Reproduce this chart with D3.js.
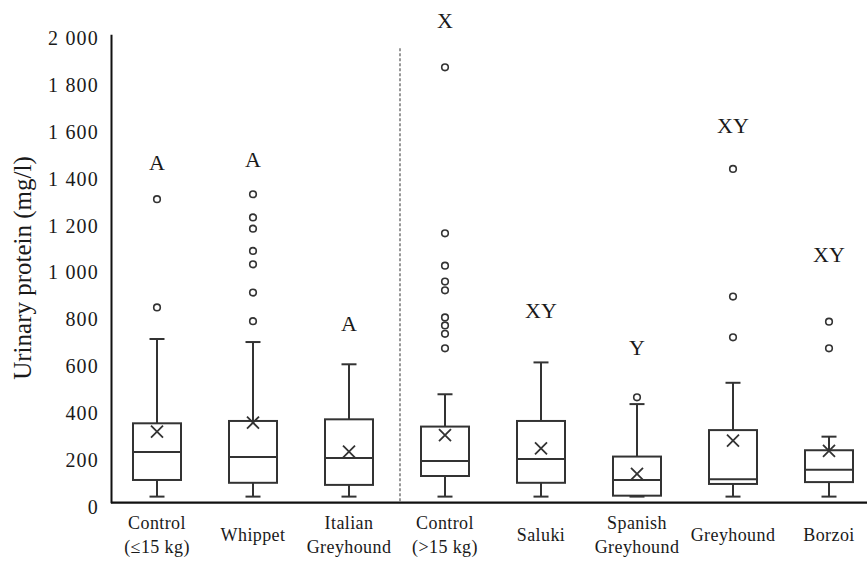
<!DOCTYPE html>
<html>
<head>
<meta charset="utf-8">
<script src="https://cdn.jsdelivr.net/npm/d3@7"></script>
<style>
  html, body { margin: 0; padding: 0; background: #fff; }
  svg { display: block; }
</style>
</head>
<body>
<svg id="chart" width="867" height="568"></svg>
<script>
// ---------- data ----------
const categories = ["Control (≤15 kg)", "Whippet", "Italian Greyhound", "Control (>15 kg)",
                    "Saluki", "Spanish Greyhound", "Greyhound", "Borzoi"];
const categoryLines = [["Control", "(≤15 kg)"], ["Whippet"], ["Italian", "Greyhound"], ["Control", "(>15 kg)"],
                       ["Saluki"], ["Spanish", "Greyhound"], ["Greyhound"], ["Borzoi"]];
const whiskerLow  = [26, 26, 26, 26, 26, 26, 26, 26];
const q1          = [97, 85, 76, 114, 85, 30, 80, 88];
const medians     = [216, 195, 191, 178, 187, 97, 100, 141];
const q3          = [339, 349, 356, 325, 349, 197, 310, 224];
const whiskerHigh = [699, 686, 591, 463, 599, 421, 512, 282];
const means       = [303, 342, 218, 289, 232, 123, 265, 221];
const outliers    = [
  [834, 1296],
  [775, 897, 1018, 1075, 1170, 1218, 1317],
  [],
  [659, 721, 757, 791, 907, 944, 1012, 1150, 1859],
  [],
  [450],
  [706, 880, 1425],
  [659, 773]
];
const letters      = ["A", "A", "A", "X", "XY", "Y", "XY", "XY"];
const letterValues = [1452, 1468, 767, 2058, 820, 662, 1613, 1062];
const yTicks = [0, 200, 400, 600, 800, 1000, 1200, 1400, 1600, 1800, 2000];
const yTitle = "Urinary protein (mg/l)";

// ---------- layout ----------
const W = 867, H = 568;
const plotLeft = 111, plotTop = 34.3, plotBottom = 502.7;
const ink = "#1a1a1a", lineCol = "#333";
const serif = "'Liberation Serif', 'Times New Roman', serif";

const svg = d3.select("#chart");
svg.append("rect").attr("width", W).attr("height", H).attr("fill", "#fff");

const x = d3.scaleBand().domain(categories).range([109, 877]).paddingInner(0).paddingOuter(0);
const y = d3.scaleLinear().domain([0, 2000]).range([plotBottom, plotTop]);
const cx = c => x(c) + x.bandwidth() / 2;
const boxW = x.bandwidth() * 0.5;
const capW = 15;

const fmt = d3.formatLocale({ decimal: ".", thousands: " ", grouping: [3], currency: ["", ""] }).format(",");

// y axis
const gy = svg.append("g").attr("transform", `translate(${plotLeft},0)`)
  .call(d3.axisLeft(y).tickValues(yTicks).tickSize(0).tickPadding(12).tickFormat(fmt));
gy.select(".domain").attr("stroke", "#111").attr("stroke-width", 2);
gy.selectAll(".tick text").attr("font-family", serif).attr("font-size", 20)
  .attr("letter-spacing", "1.2px").attr("fill", ink).attr("dy", "0.52em");

// y title
svg.append("text")
  .attr("transform", `translate(31,268) rotate(-90)`)
  .attr("text-anchor", "middle")
  .attr("font-family", serif).attr("font-size", 25).attr("fill", ink)
  .text(yTitle);

// x axis
const gx = svg.append("g").attr("transform", `translate(0,${plotBottom})`)
  .call(d3.axisBottom(x).tickSize(0).tickPadding(0).tickFormat(""));
gx.select(".domain").attr("d", `M${plotLeft},0H${W}`).attr("stroke", "#111").attr("stroke-width", 2.2);
gx.selectAll(".tick").each(function (d, i) {
  const lines = categoryLines[i];
  const t = d3.select(this).select("text")
    .attr("font-family", serif).attr("font-size", 18).attr("fill", ink)
    .attr("letter-spacing", "0.4px").attr("text-anchor", "middle").attr("dy", null).attr("y", 0);
  const startY = lines.length === 2 ? 26 : 38;
  lines.forEach((ln, k) => {
    t.append("tspan").attr("x", 0).attr("y", startY + k * 24).text(ln);
  });
});

// dashed separator
svg.append("line")
  .attr("x1", x(categories[3]) + 3).attr("x2", x(categories[3]) + 3)
  .attr("y1", y(1940)).attr("y2", plotBottom)
  .attr("stroke", "#555").attr("stroke-width", 1.2).attr("stroke-dasharray", "3,2");

// boxes
const g = svg.append("g").attr("stroke", lineCol).attr("stroke-width", 2).attr("fill", "none");
categories.forEach((c, i) => {
  const xc = cx(c);
  // whiskers
  g.append("line").attr("x1", xc).attr("x2", xc).attr("y1", y(q3[i])).attr("y2", y(whiskerHigh[i]));
  g.append("line").attr("x1", xc).attr("x2", xc).attr("y1", y(q1[i])).attr("y2", y(whiskerLow[i]));
  g.append("line").attr("x1", xc - capW / 2).attr("x2", xc + capW / 2).attr("y1", y(whiskerHigh[i])).attr("y2", y(whiskerHigh[i]));
  g.append("line").attr("x1", xc - capW / 2).attr("x2", xc + capW / 2).attr("y1", y(whiskerLow[i])).attr("y2", y(whiskerLow[i]));
  // box
  g.append("rect").attr("x", xc - boxW / 2).attr("width", boxW)
    .attr("y", y(q3[i])).attr("height", y(q1[i]) - y(q3[i])).attr("fill", "#fff");
  // median
  g.append("line").attr("x1", xc - boxW / 2).attr("x2", xc + boxW / 2).attr("y1", y(medians[i])).attr("y2", y(medians[i]));
  // mean X
  const my = y(means[i]), s = 6;
  g.append("path").attr("d", `M${xc - s},${my - s}L${xc + s},${my + s}M${xc - s},${my + s}L${xc + s},${my - s}`)
    .attr("stroke-width", 1.8);
  // outliers
  outliers[i].forEach(v => {
    g.append("circle").attr("cx", xc).attr("cy", y(v)).attr("r", 3.3).attr("fill", "#fff").attr("stroke-width", 1.6);
  });
  // letter
  svg.append("text").attr("x", xc).attr("y", y(letterValues[i])).attr("dy", "0.35em")
    .attr("text-anchor", "middle").attr("font-family", serif).attr("font-size", 22).attr("fill", ink)
    .text(letters[i]);
});
</script>
</body>
</html>
